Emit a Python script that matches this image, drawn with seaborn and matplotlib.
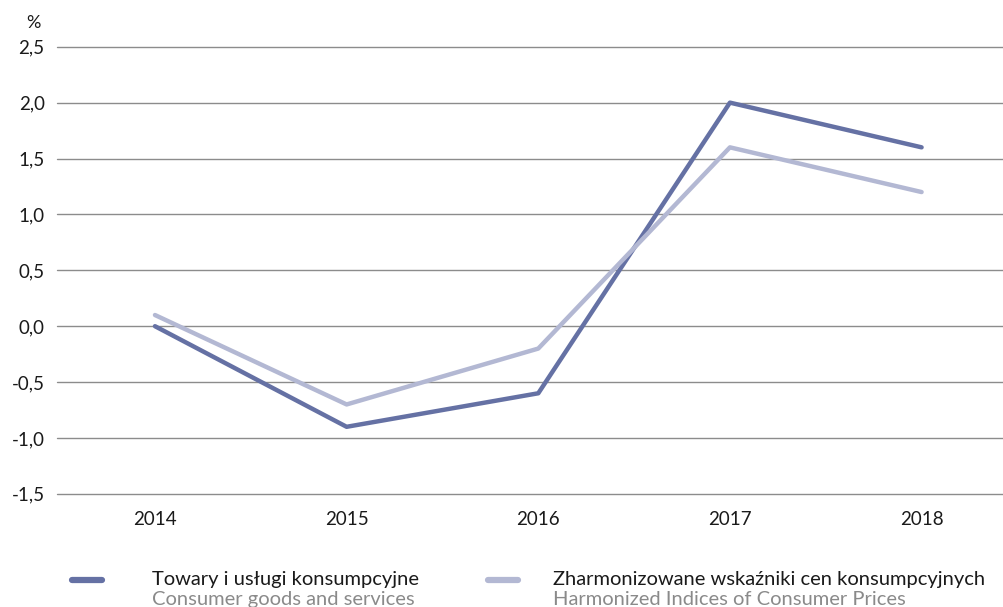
import pandas as pd
import seaborn as sns
import matplotlib.pyplot as plt
from matplotlib.lines import Line2D
from matplotlib.ticker import FuncFormatter

# === Data ===
years = ['2014', '2015', '2016', '2017', '2018']
cpi = [0.0, -0.9, -0.6, 2.0, 1.6]
hicp = [0.1, -0.7, -0.2, 1.6, 1.2]
labels_pl = ['Towary i usługi konsumpcyjne', 'Zharmonizowane wskaźniki cen konsumpcyjnych']
labels_en = ['Consumer goods and services', 'Harmonized Indices of Consumer Prices']
colors = ['#6571a4', '#b3b8d3']

df = pd.DataFrame({
    'rok': years * 2,
    'value': cpi + hicp,
    'series': [labels_pl[0]] * len(years) + [labels_pl[1]] * len(years),
})

# === Plot ===
sns.set_theme(style='white')
plt.rcParams['font.family'] = ['Lato', 'DejaVu Sans']

fig = plt.figure(figsize=(10.04, 6.07), dpi=100)
ax = fig.add_axes([0.057, 0.186, 0.943, 0.737])

sns.lineplot(data=df, x='rok', y='value', hue='series', hue_order=labels_pl,
             palette=colors, linewidth=3.2, legend=False, ax=ax, zorder=3)

ax.set_ylim(-1.502, 2.5)
ax.set_xlim(-0.51, 4.43)
ax.set_yticks([-1.5, -1.0, -0.5, 0.0, 0.5, 1.0, 1.5, 2.0, 2.5])
ax.yaxis.set_major_formatter(FuncFormatter(lambda v, p: f'{v:.1f}'.replace('.', ',')))
ax.grid(axis='y', color='#8c8c8c', linewidth=1)
for g in ax.get_ygridlines():
    g.set_clip_on(False)
for s in ax.spines.values():
    s.set_visible(False)
ax.tick_params(axis='both', length=0, labelsize=13.5, colors='#1a1a1a')
ax.tick_params(axis='x', pad=12)
ax.tick_params(axis='y', pad=9)
ax.set_xlabel('')
ax.set_ylabel('')
ax.text(-0.018, 1.035, '%', transform=ax.transAxes, fontsize=13, ha='right', va='bottom', color='#1a1a1a')

# === Legend ===
for i, (xh, xt) in enumerate([(0.072, 0.151), (0.486, 0.551)]):
    fig.add_artist(Line2D([xh, xh + 0.03], [0.045, 0.045], transform=fig.transFigure,
                          color=colors[i], linewidth=4.5, solid_capstyle='round'))
    fig.text(xt, 0.031, labels_pl[i], fontsize=14.5, color='#1a1a1a', va='bottom')
    fig.text(xt, 0.027, labels_en[i], fontsize=14.5, color='#8a8a8a', va='top')

plt.savefig('out.png', dpi=100)
